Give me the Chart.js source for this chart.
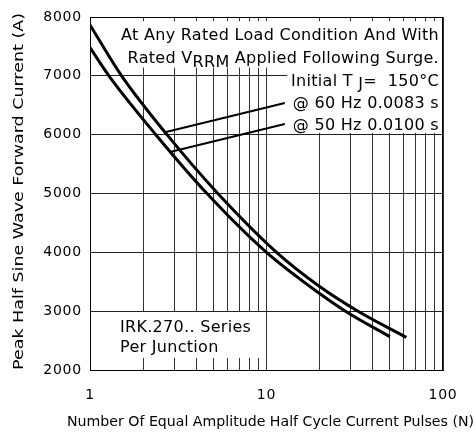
<!DOCTYPE html>
<html>
<head>
<meta charset="utf-8">
<script src="https://cdn.jsdelivr.net/npm/chart.js@4.4.0/dist/chart.umd.min.js"></script>
<style>
  html, body { margin: 0; padding: 0; background: #fff; }
</style>
</head>
<body>
<canvas id="surgeChart" width="476" height="432"></canvas>
<script>
// values (mostly where the curves cross the grid)
const pulses60 = [1, 1.51, 2.73, 5.3, 11.4, 20, 33, 62];
const current60 = [7864, 7000, 6000, 5000, 4000, 3420, 3000, 2555];
const pulses50 = [1, 1.28, 2.36, 4.6, 10, 20, 28, 50];
const current50 = [7480, 7000, 6000, 5000, 4000, 3300, 3000, 2566];

const xTicks = [1, 2, 3, 4, 5, 6, 7, 8, 9, 10, 20, 30, 40, 50, 60, 70, 80, 90, 100];
const xLabels = [1, 10, 100];
const yTicks = [2000, 3000, 4000, 5000, 6000, 7000, 8000];

// leader lines from the notes to the curves (data coordinates)
const leader60 = [{ x: 2.66, y: 6040 }, { x: 12.7, y: 6537 }];
const leader50 = [{ x: 2.84, y: 5704 }, { x: 12.7, y: 6180 }];

const xTitle = 'Number Of Equal Amplitude Half Cycle Current Pulses (N)';
const yTitle = 'Peak Half Sine Wave Forward Current (A)';

Chart.defaults.font.family = "'DejaVu Sans', sans-serif";
Chart.defaults.color = '#000';

function toPoints(xs, ys) {
  return xs.map((x, i) => ({ x: x, y: ys[i] }));
}

// draws a line of text made of runs, some of them lowered as subscripts
function drawRuns(ctx, runs, x, y, align) {
  let total = 0;
  runs.forEach(r => { total += ctx.measureText(r.t).width; });
  let cx = align === 'right' ? x - total : x;
  runs.forEach(r => {
    ctx.fillText(r.t, cx, y + (r.dy || 0));
    cx += ctx.measureText(r.t).width;
  });
}

// text stretched along its run to a given length (the datasheet font is wide)
function fitText(ctx, text, length) {
  const w = ctx.measureText(text).width;
  ctx.scale(length / w, 1);
  ctx.fillText(text, -w / 2, 0);
}

const notesPlugin = {
  id: 'notes',
  beforeDraw(chart) {
    chart.ctx.letterSpacing = '0.8px';
  },
  beforeDatasetsDraw(chart) {
    const ctx = chart.ctx;
    const xs = chart.scales.x, ys = chart.scales.y;
    const area = chart.chartArea;
    const px = v => xs.getPixelForValue(v);
    const py = v => ys.getPixelForValue(v);

    ctx.save();
    ctx.fillStyle = '#fff';
    // white boxes behind the notes
    ctx.fillRect(px(1.45), py(7930), area.right - px(1.45), py(7140) - py(7930));
    ctx.fillRect(px(13.1), py(7150), area.right - px(13.1), py(6030) - py(7150));
    ctx.fillRect(px(1.4), py(2985), px(9.6) - px(1.4), py(2205) - py(2985));

    // frame
    ctx.strokeStyle = '#000';
    ctx.lineWidth = 1;
    ctx.strokeRect(Math.round(area.left) + 0.5, Math.round(area.top) + 0.5,
      Math.round(area.right - area.left) - 1, Math.round(area.bottom - area.top));

    ctx.fillStyle = '#000';
    ctx.font = "16px 'DejaVu Sans'";
    ctx.letterSpacing = '0.3px';
    ctx.textBaseline = 'alphabetic';
    const rx = area.right - 4;
    drawRuns(ctx, [{ t: 'At Any Rated Load Condition And With' }], rx, area.top + 23, 'right');
    drawRuns(ctx, [{ t: 'Rated V' }, { t: 'RRM', dy: 4 }, { t: ' Applied Following Surge.' }], rx, area.top + 46, 'right');
    drawRuns(ctx, [{ t: 'Initial T ' }, { t: 'J', dy: 3 }, { t: '=  150°C' }], rx, area.top + 69, 'right');
    drawRuns(ctx, [{ t: '@ 60 Hz 0.0083 s' }], rx, area.top + 91, 'right');
    drawRuns(ctx, [{ t: '@ 50 Hz 0.0100 s' }], rx, area.top + 113, 'right');

    drawRuns(ctx, [{ t: 'IRK.270.. Series' }], area.left + 30, area.bottom - 38, 'left');
    drawRuns(ctx, [{ t: 'Per Junction' }], area.left + 30, area.bottom - 18, 'left');
    ctx.restore();
  },
  afterDraw(chart) {
    const ctx = chart.ctx;
    const area = chart.chartArea;
    ctx.fillStyle = '#000';
    ctx.textAlign = 'left';
    ctx.textBaseline = 'alphabetic';

    ctx.save();
    ctx.font = "14px 'DejaVu Sans'";
    ctx.letterSpacing = '0px';
    ctx.translate(270.5, 426);
    fitText(ctx, xTitle, 407);
    ctx.restore();

    ctx.save();
    ctx.font = "14px 'DejaVu Sans'";
    ctx.letterSpacing = '0px';
    ctx.translate(23, 191.5);
    ctx.rotate(-Math.PI / 2);
    fitText(ctx, yTitle, 357);
    ctx.restore();
  }
};

const ctx = document.getElementById('surgeChart').getContext('2d');
const surgeChart = new Chart(ctx, {
  type: 'line',
  data: {
    datasets: [
      {
        label: '@ 60 Hz 0.0083 s',
        data: toPoints(pulses60, current60),
        borderColor: '#000',
        borderWidth: 3,
        pointRadius: 0,
        cubicInterpolationMode: 'monotone',
        fill: false,
      },
      {
        label: '@ 50 Hz 0.0100 s',
        data: toPoints(pulses50, current50),
        borderColor: '#000',
        borderWidth: 3,
        pointRadius: 0,
        cubicInterpolationMode: 'monotone',
        fill: false,
      },
      {
        label: 'leader 60',
        data: leader60,
        borderColor: '#000',
        borderWidth: 2,
        pointRadius: 0,
        tension: 0,
      },
      {
        label: 'leader 50',
        data: leader50,
        borderColor: '#000',
        borderWidth: 2,
        pointRadius: 0,
        tension: 0,
      }
    ]
  },
  options: {
    responsive: false,
    animation: false,
    layout: { padding: { top: 17, right: 33, left: 0, bottom: 0 } },
    plugins: {
      legend: { display: false },
      tooltip: { enabled: false },
    },
    scales: {
      x: {
        type: 'logarithmic',
        min: 1,
        max: 100,
        afterBuildTicks: s => { s.ticks = xTicks.map(v => ({ value: v })); },
        afterFit: s => { s.height = 62; },
        ticks: {
          autoSkip: false,
          maxRotation: 0,
          padding: 17,
          font: { size: 14 },
          callback: v => xLabels.includes(v) ? String(v) : '',
        },
        grid: { color: '#333', drawTicks: false },
        border: { color: '#000' },
      },
      y: {
        min: 2000,
        max: 8000,
        afterBuildTicks: s => { s.ticks = yTicks.map(v => ({ value: v })); },
        afterFit: s => { s.width = 90; },
        ticks: {
          padding: 8,
          font: { size: 14 },
          callback: v => String(v),
        },
        grid: { color: '#222', drawTicks: false },
        border: { color: '#000' },
      }
    }
  },
  plugins: [notesPlugin]
});
</script>
</body>
</html>
